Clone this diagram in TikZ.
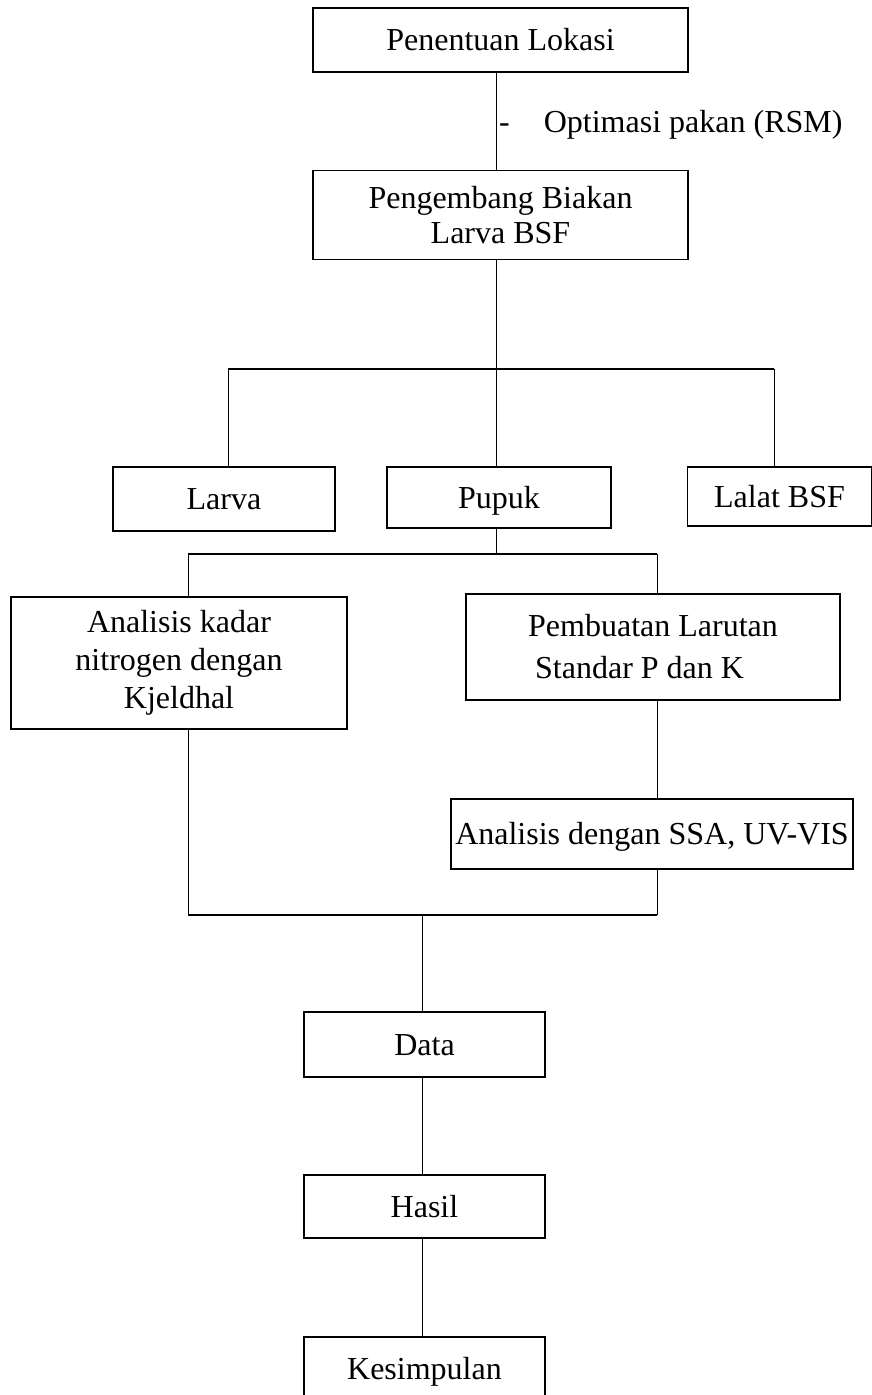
\documentclass[tikz,border=0pt]{standalone}
\usepackage{fontspec}
\setmainfont{Liberation Serif}
\usetikzlibrary{positioning}

\begin{document}
\begin{tikzpicture}[x=1pt, y=-1pt,
  box/.style={draw, line width=1.1pt, inner sep=0pt, outer sep=0pt, align=center},
  one/.style={text height=21pt, text depth=0pt},
  link/.style={line width=0.8pt},
  bar/.style={line width=1.3pt},
  font=\fontsize{32}{37}\selectfont]

\useasboundingbox (0,0) rectangle (872,1395);
\clip (0,0) rectangle (872,1395);

%lokasi
\node[box, one, minimum width=375pt, minimum height=64pt] (lokasi) at (500.5,40) {Penentuan Lokasi};
%biakan
\node[box, minimum width=375pt, minimum height=89pt, font=\fontsize{32}{35}\selectfont] (biakan) at (500.5,215) {Pengembang Biakan\\Larva BSF};
%optimasi
\node[anchor=west, inner sep=0pt] (optimasi) at (499,125) {-\hspace{34pt}Optimasi pakan (RSM)};

%larva
\node[box, one, minimum width=222pt, minimum height=64pt] (larva) at (224,499) {Larva};
%pupuk
\node[box, one, minimum width=224pt, minimum height=61pt] (pupuk) at (499,497.5) {Pupuk};
%lalat
\node[box, one, minimum width=184pt, minimum height=59pt] (lalat) at (779.5,496.5) {Lalat BSF};

%kjeldhal
\node[box, minimum width=336pt, minimum height=132pt, font=\fontsize{32}{38}\selectfont] (kjeldhal) at (179,663) {Analisis kadar\\nitrogen dengan\\Kjeldhal};
%larutan
\node[box, align=left, minimum width=374pt, minimum height=106pt, font=\fontsize{32}{42}\selectfont] (larutan) at (653,647) {Pembuatan Larutan\\\hspace{7pt}Standar P dan K};
%ssa
\node[box, one, minimum width=402pt, minimum height=70pt] (ssa) at (652,834) {Analisis dengan SSA, UV-VIS};

%data
\node[box, one, minimum width=241pt, minimum height=65pt] (data) at (424.5,1044.5) {Data};
%hasil
\node[box, one, minimum width=241pt, minimum height=63pt] (hasil) at (424.5,1206.5) {Hasil};
%kesimpulan
\node[box, one, minimum width=241pt, minimum height=64pt] (kesimpulan) at (424.5,1369) {Kesimpulan};

% branch points
\coordinate (top) at (496,369);
\coordinate (topL) at (228,369);
\coordinate (topR) at (774,369);
\coordinate (mid) at (496,554);
\coordinate (midL) at (188,554);
\coordinate (midR) at (657,554);
\coordinate (low) at (422,915);
\coordinate (lowL) at (188,915);
\coordinate (lowR) at (657,915);

\draw[link] (lokasi.south -| top) -- (biakan.north -| top);
\draw[link] (biakan.south -| top) -- (top);
\draw[bar] (topL) -- (topR);
\draw[link] (topL) -- (topL |- larva.north);
\draw[link] (top) -- (top |- pupuk.north);
\draw[link] (topR) -- (topR |- lalat.north);

\draw[link] (pupuk.south -| mid) -- (mid);
\draw[bar] (midL) -- (midR);
\draw[link] (midL) -- (midL |- kjeldhal.north);
\draw[link] (midR) -- (midR |- larutan.north);
\draw[link] (larutan.south -| midR) -- (ssa.north -| midR);

\draw[link] (kjeldhal.south -| lowL) -- (lowL);
\draw[link] (ssa.south -| lowR) -- (lowR);
\draw[bar] (lowL) -- (lowR);
\draw[link] (low) -- (low |- data.north);
\draw[link] (data.south -| low) -- (hasil.north -| low);
\draw[link] (hasil.south -| low) -- (kesimpulan.north -| low);

\end{tikzpicture}
\end{document}
